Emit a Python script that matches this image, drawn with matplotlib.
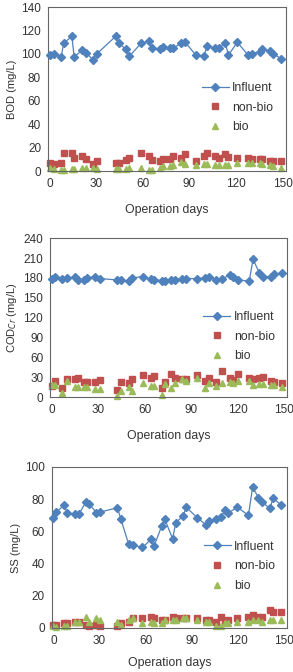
import matplotlib.pyplot as plt

plt.rcParams['font.family'] = ['Liberation Sans', 'DejaVu Sans']

# ---- BOD panel data ----
bod_days = [0, 2.6, 7.5, 9, 14.3, 15.8, 20.9, 23.5, 27.8, 30.3, 42.5, 44.5, 49.1, 51.3,
            58.8, 63.9, 65.6, 71, 72.7, 77.4, 79.5, 84.4, 87.2, 94, 99.2, 101.3, 106.2,
            108.8, 113, 115, 120.7, 127.6, 130, 135, 136.6, 141.5, 143.6, 149]
bod_inf = [99, 100, 97.5, 109, 115, 97.5, 103, 101, 95, 100, 115, 109, 104, 98,
           109, 111, 105, 104, 106, 105, 105, 109, 110, 99, 98, 107, 105,
           105, 109, 99, 110, 99, 100, 102, 104.5, 102.5, 100, 96]
bod_nonbio = [7, 6, 7, 15, 15, 11, 13, 10, 6, 8.5, 7, 7, 9, 11,
              15, 13, 9, 8.5, 10, 10, 12.5, 11, 14.5, 8.5, 13, 15, 13,
              11, 14.5, 12, 11, 11, 10, 10, 10, 8.5, 8.5, 8.5]
bod_bio = [3, 2, 1, 1, 2, 2, 3, 3, 3, 2, 2, 2, 2, 3,
           3, 1, 1, 3, 4, 4, 5, 8, 6, 5, 6, 6, 5,
           5, 5, 5, 7, 7, 7, 7, 6, 5, 4, 3]

# ---- COD panel data ----
cod_days = [0, 2, 7, 10, 15, 17, 21, 23, 28, 31, 42, 45, 50, 52,
            59, 64, 66, 71, 73, 77, 79.5, 84, 87, 94, 99, 101.5, 106,
            110, 115, 117, 120.5, 127.5, 130, 134, 136.5, 141.5, 143.6, 149]
cod_inf = [178, 181, 178, 180, 181, 177, 177, 180, 182, 179, 177, 177, 175, 180,
           182, 178, 177, 176, 176, 177, 177, 179, 179, 179, 180, 181, 177,
           179, 184, 182, 177, 175, 208, 188, 182, 182, 186, 187]
cod_nonbio = [17, 25, 14, 28, 28, 29, 23, 23, 23, 26, 11, 23, 21, 28,
              34, 29, 32, 14, 23, 35, 29, 28, 28, 33, 25, 29, 23,
              40, 29, 26, 35, 29, 28, 29, 30, 24, 23, 21]
cod_bio = [18, 18, 6, 25, 15, 15, 16, 16, 13, 13, 2, 10, 15, 10,
           21, 17, 17, 4, 20, 14, 21, 27, 25, 29, 14, 22, 17,
           22, 23, 22, 24, 24, 18, 20, 20, 18, 18, 15]

# ---- SS panel data ----
ss_days = [0, 2, 7, 9, 14, 16.5, 21, 23.5, 28, 30.5, 41.7, 44, 49, 51.7,
           58, 63.5, 65.6, 70.5, 72.6, 77.6, 79.7, 84.4, 86.5, 93.6, 99.4, 101, 106,
           109, 112, 114, 119.7, 127, 129.7, 133.5, 136, 141, 143, 148.5]
ss_inf = [68.5, 72, 76.3, 71.5, 70.5, 70.5, 78, 77, 71.5, 72, 74.7, 67.4, 52, 51.5,
          50, 55, 51, 63.3, 67.4, 55.4, 65.4, 69.5, 75, 68.5, 64, 66.4, 67.4,
          69, 73, 71.5, 75, 70, 87.5, 81, 78, 74.3, 80.5, 76.3]
ss_nonbio = [2, 2, 3, 3, 4, 4, 2, 1, 2, 1, 1, 3, 4, 6,
             6, 7, 6, 5, 5, 7, 6, 6, 6, 6, 5, 5, 4,
             7, 4, 5, 6, 7, 8, 7, 7, 11, 10, 10]
ss_bio = [1, 0.5, 1, 1, 4, 4, 7, 4, 6, 5, 4, 2, 5, 6,
          3, 4, 3, 3, 5, 5, 5, 6, 6, 5, 4, 4, 1,
          1, 3, 3, 4, 4, 5, 5, 4, 5, 5, 5]

xticks = [0, 30, 60, 90, 120, 150]

panels = [
    # rect, days, inf, nonbio, bio, ylabel, ymax, ystep, xlabel pad
    ([0.164, 0.7455, 0.812, 0.244], bod_days, bod_inf, bod_nonbio, bod_bio,
     "BOD (mg/L)", 140, 20, 10),
    ([0.171, 0.409, 0.809, 0.2366], cod_days, cod_inf, cod_nonbio, cod_bio,
     "COD$_{Cr}$ (mg/L)", 240, 30, 10),
    ([0.177, 0.0655, 0.802, 0.2396], ss_days, ss_inf, ss_nonbio, ss_bio,
     "SS (mg/L)", 100, 20, 7),
]

fig = plt.figure(figsize=(2.93, 6.72), dpi=100)

for rect, days, inf, nonbio, bio, ylab, ymax, ystep, xpad in panels:
    ax = fig.add_axes(rect)
    ax.plot(days, inf, color="#4F81BD", lw=0.9, marker="D", ms=3.8,
            label="Influent", clip_on=False, zorder=3)
    ax.plot(days, nonbio, ls="none", marker="s", ms=5, color="#C0504D",
            label="non-bio", clip_on=False, zorder=2)
    ax.plot(days, bio, ls="none", marker="^", ms=5, color="#9BBB59",
            label="bio", clip_on=False, zorder=2)
    ax.set_xlim(-1, 152)
    ax.set_ylim(0, ymax)
    ax.set_xticks(xticks)
    ax.set_yticks(range(0, ymax + 1, ystep))
    ax.tick_params(labelsize=8.5, colors="#333333", length=0, pad=5)
    for s in ax.spines.values():
        s.set_color("#666666")
        s.set_linewidth(0.8)
    ax.set_xlabel("Operation days", fontsize=8.8, color="#333333", labelpad=xpad)
    ax.set_ylabel(ylab, fontsize=8, color="#333333", labelpad=3)
    ax.legend(loc="upper left", bbox_to_anchor=(0.62, 0.58), frameon=False,
              fontsize=8.8, handlelength=2.2, handletextpad=0.3,
              labelspacing=0.62, borderpad=0, markerscale=1.0,
              labelcolor="#333333")

fig.savefig("out.png", dpi=100)
